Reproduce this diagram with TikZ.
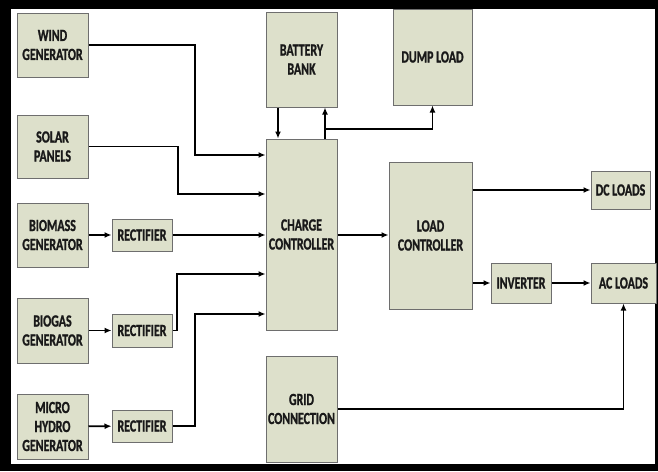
\documentclass[tikz,border=0pt]{standalone}
\usepackage{fontspec}
\setmainfont{Carlito}[FakeStretch=0.7,FakeBold=1.2]
\usetikzlibrary{arrows.meta}
\definecolor{boxfill}{HTML}{DDE0CB}
\definecolor{boxline}{HTML}{6E6E6E}
\begin{document}
\begin{tikzpicture}[x=1pt,y=-1pt,
	block/.style={draw=boxline,fill=boxfill,line width=1pt,align=center,
		inner sep=0pt,text=black!90,font=\fontsize{17}{19}\selectfont\bfseries},
	wire/.style={line width=1.8pt,-{Latex[length=7pt,width=6pt]}}]
	\useasboundingbox (0,0) rectangle (658,471);
	\fill[black] (0,0) rectangle (658,471);
	\fill[white] (11,9) rectangle (655,464);
	% sources
	\node[block,minimum width=71,minimum height=64] (wind) at (52.5,45) {WIND\\GENERATOR};
	\node[block,minimum width=71,minimum height=63] (solar) at (52.5,146.5) {SOLAR\\PANELS};
	\node[block,minimum width=71,minimum height=64] (biomass) at (52.5,235) {BIOMASS\\GENERATOR};
	\node[block,minimum width=71,minimum height=65] (biogas) at (52.5,330.5) {BIOGAS\\GENERATOR};
	\node[block,minimum width=71,minimum height=65] (hydro) at (52.5,426.5) {MICRO\\HYDRO\\GENERATOR};
	\node[block,minimum width=60,minimum height=32] (rect1) at (142,235) {RECTIFIER};
	\node[block,minimum width=60,minimum height=33] (rect2) at (142,330.5) {RECTIFIER};
	\node[block,minimum width=60,minimum height=32] (rect3) at (142,426) {RECTIFIER};
	% middle column
	\node[block,minimum width=71,minimum height=95] (battery) at (301.5,59.5) {BATTERY\\BANK};
	\node[block,minimum width=71,minimum height=191] (cc) at (301.5,234.5) {CHARGE\\CONTROLLER};
	\node[block,minimum width=71,minimum height=106] (grid) at (301.5,409) {GRID\\CONNECTION};
	\node[block,minimum width=79,minimum height=96] (dump) at (432.5,57) {DUMP LOAD};
	\node[block,minimum width=83,minimum height=147] (lc) at (430.5,235.5) {LOAD\\CONTROLLER};
	% loads
	\node[block,minimum width=59,minimum height=38] (dc) at (620.5,190) {DC LOADS};
	\node[block,minimum width=60,minimum height=40] (inverter) at (521,283) {INVERTER};
	\node[block,minimum width=65,minimum height=40] (ac) at (623.5,283) {AC LOADS};
	\coordinate (split) at ([xshift=-12.5,yshift=9.5]cc.north east);

	\draw[wire] (wind.east) -- (195,45) |- (cc.west|-0,155);
	\draw[wire] (solar.east) -- (178,146.5) |- (cc.west|-0,194);
	\draw[wire] (biomass) -- (rect1);
	\draw[wire] (rect1) -- (cc.west|-rect1);
	\draw[wire] (biogas) -- (rect2);
	\draw[wire] (rect2.east) -- (177,330.5) |- (cc.west|-0,274);
	\draw[wire] (hydro) -- (rect3);
	\draw[wire] (rect3.east) -- (195,426) |- (cc.west|-0,314);
	\draw[wire] ([xshift=12.5]battery.south west) -- ([xshift=12.5]cc.north west);
	\draw[wire] ([xshift=-12.5]cc.north east) -- ([xshift=-12.5]battery.south east);
	\draw[wire] (split) -| (dump.south);
	\draw[wire] (cc.east|-0,235) -- (lc.west|-0,235);
	\draw[wire] (lc.east|-dc) -- (dc);
	\draw[wire] (lc.east|-inverter) -- (inverter);
	\draw[wire] (inverter) -- (ac);
	\draw[wire] (grid) -| (ac.south);
\end{tikzpicture}
\end{document}
